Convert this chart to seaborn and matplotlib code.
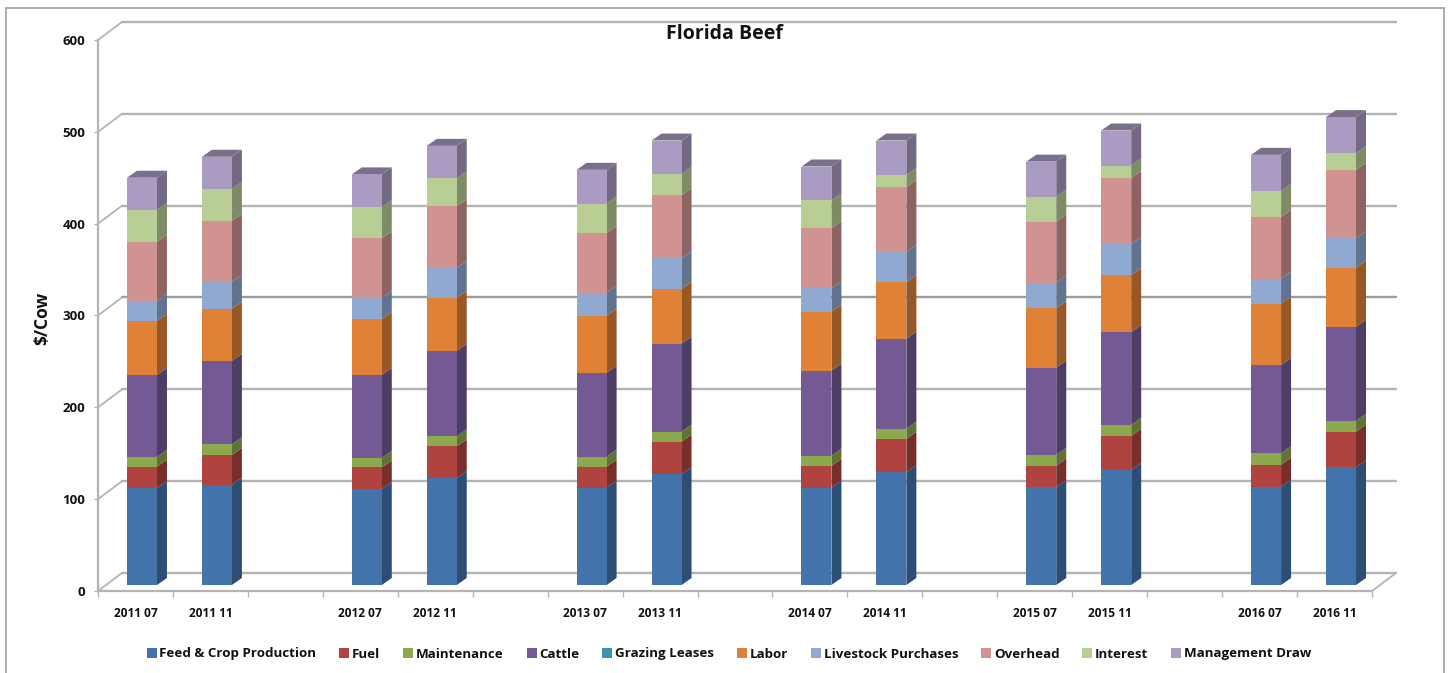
import numpy as np
import pandas as pd
import matplotlib
matplotlib.use("Agg")
import matplotlib.pyplot as plt
import seaborn as sns
from matplotlib.lines import Line2D
from matplotlib.colors import to_rgb

periods = ["2011 07", "2011 11", "2012 07", "2012 11", "2013 07", "2013 11",
           "2014 07", "2014 11", "2015 07", "2015 11", "2016 07", "2016 11"]

feed = [105.7, 109.3, 104.6, 116.6, 106.0, 120.6, 106.0, 122.8, 106.4, 125.3, 107.1, 128.2]
fuel = [23.2, 32.4, 23.4, 34.3, 22.9, 35.5, 23.6, 36.3, 23.5, 37.0, 24.0, 38.8]
maintenance = [10.6, 11.4, 10.3, 10.9, 10.9, 10.9, 11.2, 11.2, 11.7, 12.0, 12.4, 11.7]
cattle = [89.3, 91.0, 90.4, 93.1, 91.5, 95.9, 92.6, 98.0, 95.1, 101.0, 96.2, 102.4]
grazing = [0, 0, 0, 0, 0, 0, 0, 0, 0, 0, 0, 0]
labor = [58.8, 56.6, 61.0, 57.7, 61.8, 59.6, 64.3, 61.4, 64.7, 62.1, 66.8, 64.6]
livestock = [21.8, 29.4, 22.9, 32.7, 25.4, 33.4, 25.5, 33.3, 27.9, 33.8, 27.2, 32.0]
overhead = [64.3, 66.4, 64.8, 67.0, 64.7, 68.6, 65.4, 70.2, 66.4, 71.9, 67.2, 74.4]
interest = [34.9, 34.9, 34.3, 30.5, 32.2, 23.2, 30.1, 13.4, 27.2, 13.7, 28.3, 18.2]
management = [34.9, 34.9, 35.4, 35.4, 36.7, 36.3, 37.0, 37.4, 38.1, 38.1, 39.2, 39.2]

series = {
    "Feed & Crop Production": (feed, "#4273AB"),
    "Fuel": (fuel, "#B0433F"),
    "Maintenance": (maintenance, "#8DA94E"),
    "Cattle": (cattle, "#735A94"),
    "Grazing Leases": (grazing, "#3B96AB"),
    "Labor": (labor, "#DF8136"),
    "Livestock Purchases": (livestock, "#8FA9D1"),
    "Overhead": (overhead, "#D19392"),
    "Interest": (interest, "#B8CE95"),
    "Management Draw": (management, "#A99BC1"),
}

W, H = 1449, 673
GRID = "#b4b4b4"
TEXT = "#111111"
FONT = "Open Sans"

sns.set_theme(style="white")
plt.rcParams["font.family"] = [FONT, "DejaVu Sans"]

# One slot per period, with an empty slot between the years
slots, slot_pos = [], []
for i, p in enumerate(periods):
    slot_pos.append(len(slots))
    slots.append(p)
    if i % 2 == 1 and i < len(periods) - 1:
        slots.append(" " * (i + 1))
n_slots = len(slots)
slot_pos = np.array(slot_pos)


def px_axes(left, bottom_y, right, top_y):
    return fig.add_axes([left / W, (H - bottom_y) / H, (right - left) / W, (bottom_y - top_y) / H])


fig = plt.figure(figsize=(W / 100, H / 100), dpi=100, facecolor="white")

# Front plane of the pseudo-3D frame: spines, ticks and labels
frame = px_axes(98, 591, 1372, 40)
frame.set_xlim(0, n_slots)
frame.set_ylim(0, 600)
frame.patch.set_visible(False)
sns.despine(ax=frame, top=True, right=True)
for side in ("left", "bottom"):
    frame.spines[side].set_color(GRID)
    frame.spines[side].set_linewidth(1.6)

yticks = np.arange(0, 601, 100)
frame.set_yticks(yticks)
frame.tick_params(axis="y", length=3, width=1, color=GRID, pad=6, labelsize=9.5, labelcolor=TEXT, left=True)
for lab in frame.get_yticklabels():
    lab.set_fontweight("bold")

frame.set_xticks(np.arange(n_slots + 1))
frame.set_xticklabels([])
frame.tick_params(axis="x", which="major", length=4, width=1, color=GRID, bottom=True)
frame.set_xticks(slot_pos + 0.5, minor=True)
frame.set_xticklabels(periods, minor=True, fontsize=8.6, fontweight="bold", color=TEXT)
frame.tick_params(axis="x", which="minor", length=0, pad=11.5)

frame.set_ylabel("$/Cow", fontsize=12.5, fontweight="bold", color=TEXT, labelpad=0)
frame.yaxis.set_label_coords((51 - 98) / (1372 - 98), (591 - 318) / 551)

# Back wall gridlines and the diagonals joining them to the front plane
back_dx = 24 / (1274 / n_slots)
back_dy = 18 / (551 / 600)
for v in yticks:
    shade = "#9c9c9c" if v == 300 else GRID
    frame.plot([back_dx, n_slots + back_dx], [v + back_dy] * 2, color=shade, lw=1.7, clip_on=False, zorder=1)
    frame.plot([0, back_dx], [v, v + back_dy], color=GRID, lw=1.3, clip_on=False, zorder=1)
frame.plot([n_slots, n_slots + back_dx], [0, back_dy], color=GRID, lw=1.3, clip_on=False, zorder=1)

# Bars sit on the floor, slightly behind the front plane
bars = px_axes(104.5, 585, 1378.5, 34)
bars.patch.set_visible(False)

table = pd.DataFrame({"slot": slots})
for name, (values, _) in series.items():
    col = np.zeros(n_slots)
    col[slot_pos] = values
    table[name] = col

bar_width = 0.4
stack = np.zeros(n_slots)
for name, (_, color) in series.items():
    sns.barplot(data=table, x="slot", y=name, order=slots, bottom=stack, color=color,
                saturation=1, width=bar_width, label=name, ax=bars, legend=False, zorder=3,
                linewidth=0)
    stack = stack + table[name].to_numpy()

bars.set_xlim(-0.5, n_slots - 0.5)
bars.set_ylim(0, 600)
bars.axis("off")

# Side and top faces give each stacked segment its depth
depth_x = 10 / (1274 / n_slots)
depth_y = 7 / (551 / 600)
stack = np.zeros(n_slots)
for name, (_, color) in series.items():
    rgb = np.array(to_rgb(color))
    heights = table[name].to_numpy()
    for pos in slot_pos:
        h = heights[pos]
        if h <= 0:
            continue
        x1 = pos + bar_width / 2
        y0 = stack[pos]
        bars.fill([x1, x1 + depth_x, x1 + depth_x, x1],
                  [y0, y0 + depth_y, y0 + h + depth_y, y0 + h],
                  color=rgb * 0.68, lw=0, clip_on=False, zorder=2)
    stack = stack + heights

top_rgb = np.array(to_rgb(series["Management Draw"][1])) * 0.72
for pos in slot_pos:
    x0, x1 = pos - bar_width / 2, pos + bar_width / 2
    top = stack[pos]
    bars.fill([x0, x1, x1 + depth_x, x0 + depth_x],
              [top, top, top + depth_y, top + depth_y],
              color=top_rgb, lw=0, clip_on=False, zorder=2)

# Shared legend row below the axis
handles, labels = bars.get_legend_handles_labels()
legend = fig.legend(handles, labels, loc="center", bbox_to_anchor=(729 / W, 1 - 654 / H), ncol=len(labels),
                    frameon=False, fontsize=9.6, columnspacing=1.72, handlelength=0.75, handleheight=0.75,
                    handletextpad=0.2, borderpad=0)
for t in legend.get_texts():
    t.set_fontweight("bold")
    t.set_color(TEXT)

fig.text(724 / W, 1 - 34 / H, "Florida Beef", ha="center", va="center", fontsize=14, fontweight="bold", color=TEXT)

# Outer chart border, open along the lower edge
border = dict(color="#a6a6a6", lw=1.3, transform=fig.transFigure)
fig.add_artist(Line2D([6 / W, 6 / W], [0, 1 - 8 / H], **border))
fig.add_artist(Line2D([6 / W, 1444 / W], [1 - 8 / H, 1 - 8 / H], **border))
fig.add_artist(Line2D([1444 / W, 1444 / W], [1 - 8 / H, 0], **border))

fig.savefig("out.png", dpi=100)
